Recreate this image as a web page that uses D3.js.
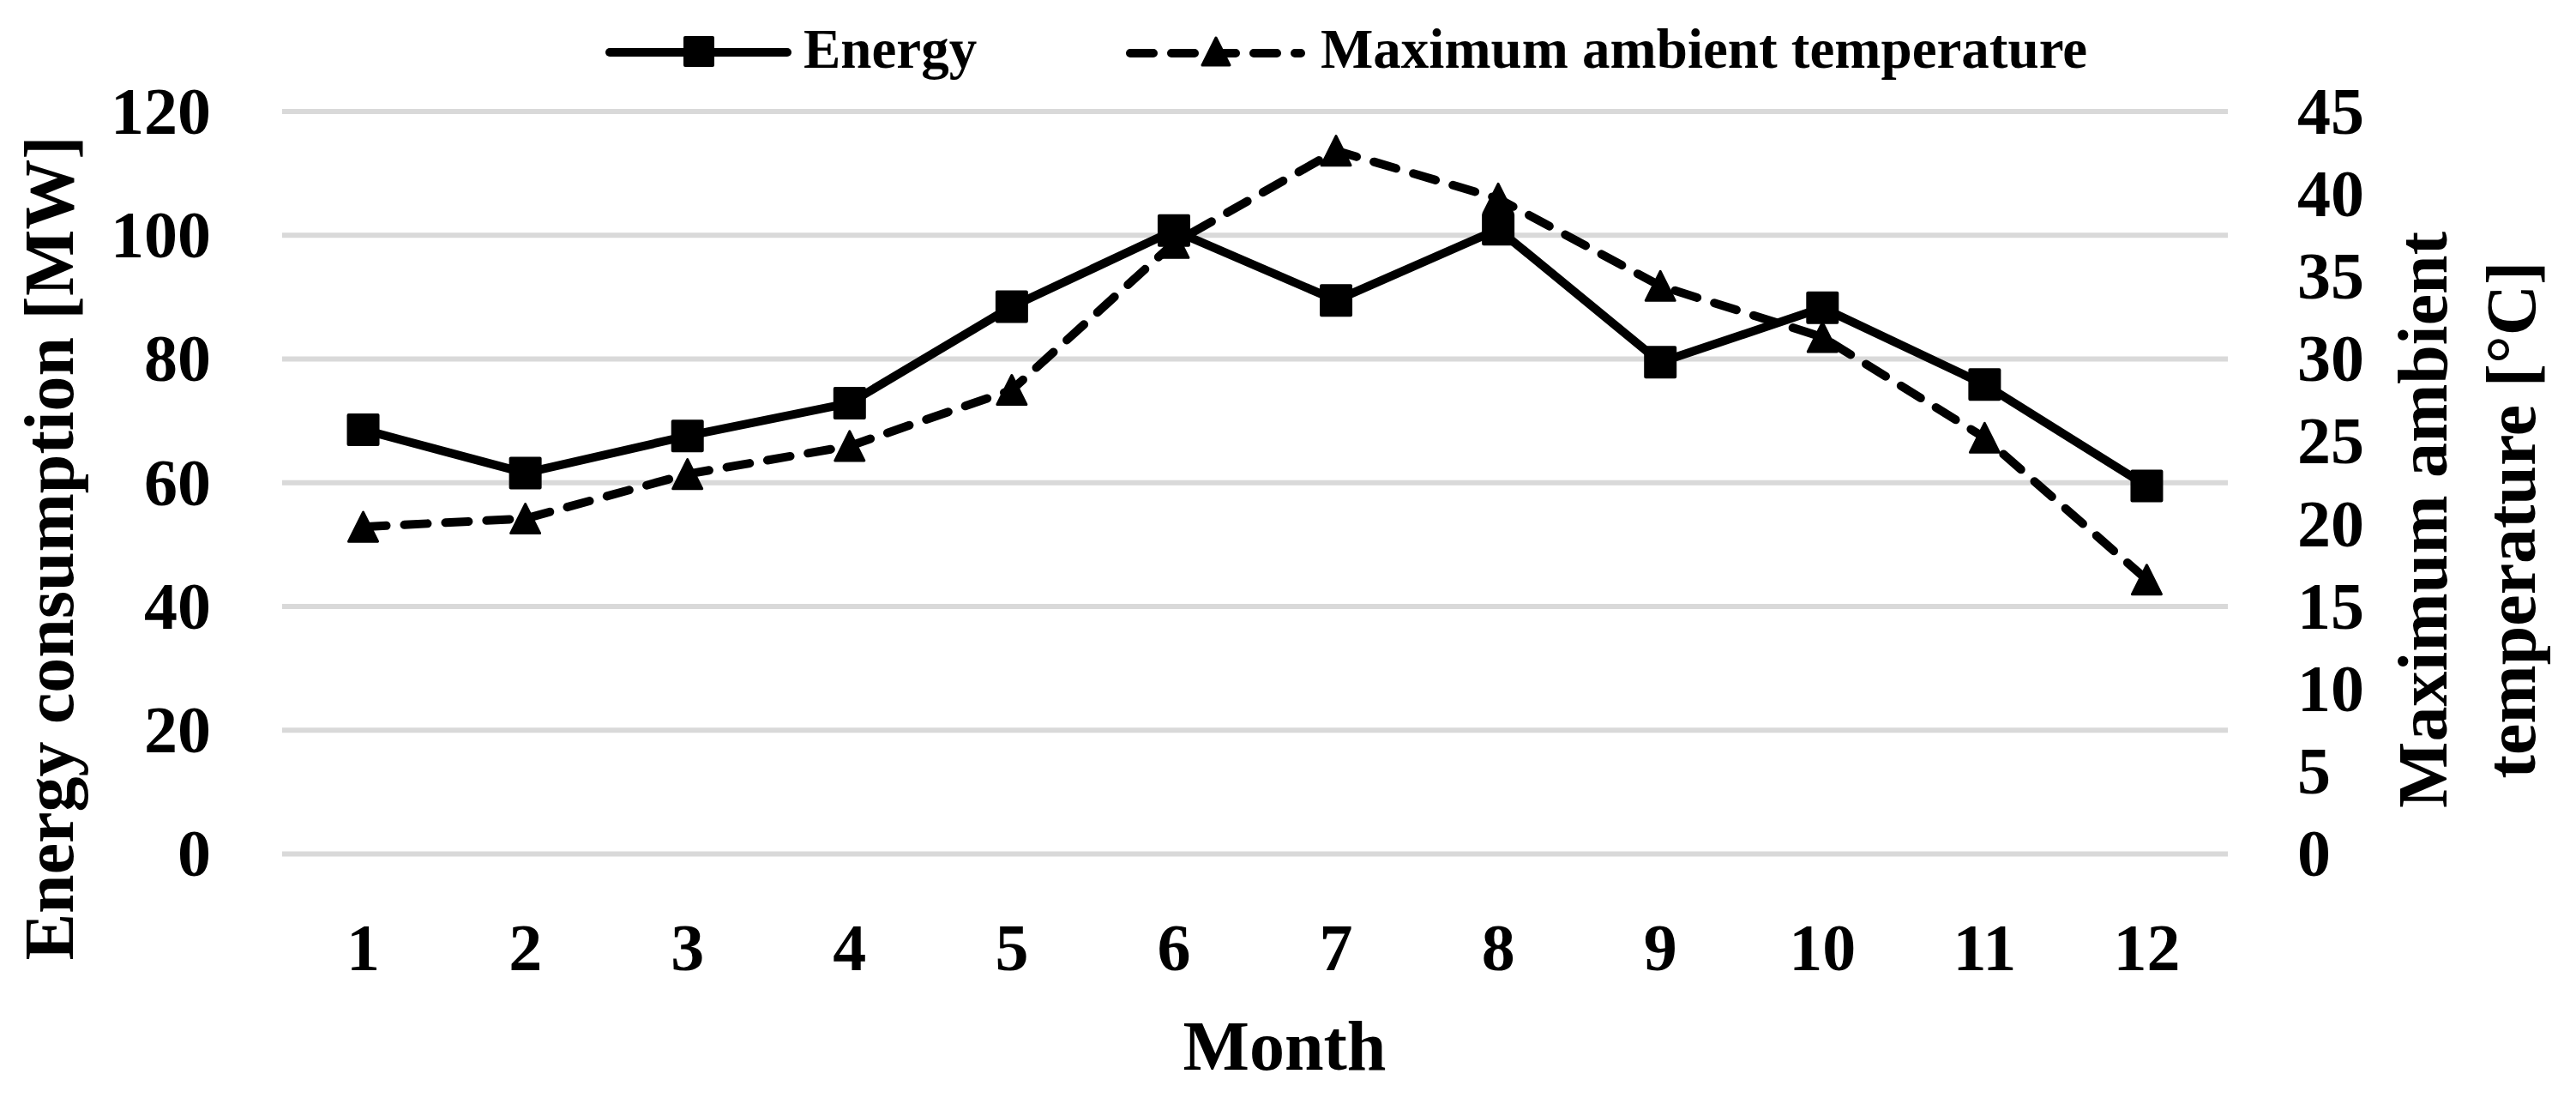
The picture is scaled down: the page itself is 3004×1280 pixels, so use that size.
<!DOCTYPE html>
<html>
<head>
<meta charset="utf-8">
<script src="https://cdn.jsdelivr.net/npm/d3@7"></script>
<style>
    body { margin: 0; background: #fff; }
    text { font-family: 'Liberation Serif', 'Times New Roman', serif; font-weight: bold; fill: #000; }
</style>
</head>
<body>
<div id="chart"></div>
<script>
// data
var months = [1, 2, 3, 4, 5, 6, 7, 8, 9, 10, 11, 12];
var energy = [68.5, 61.5, 67.5, 72.8, 88.4, 100.7, 89.4, 100.9, 79.4, 88.2, 75.8, 59.4];
var temperature = [19.8, 20.3, 23.0, 24.7, 28.1, 37.0, 42.6, 39.7, 34.4, 31.3, 25.2, 16.6];
var energyTicks = [0, 20, 40, 60, 80, 100, 120];
var tempTicks = [0, 5, 10, 15, 20, 25, 30, 35, 40, 45];
var seriesNames = ['Energy', 'Maximum ambient temperature'];

var width = 3004, height = 1280;
var plot = { left: 329, right: 2598, top: 129.5, bottom: 995 };

var svg = d3.select('#chart')
    .append('svg')
    .attr('width', width)
    .attr('height', height)
    .attr('viewBox', [0, 0, width, height]);

var x = d3.scaleBand().domain(months).range([plot.left, plot.right]);
var y = d3.scaleLinear().domain([0, 120]).range([plot.bottom, plot.top]);
var y2 = d3.scaleLinear().domain([0, 45]).range([plot.bottom, plot.top]);
var cx = function(m) { return x(m) + x.bandwidth() / 2; };

var tickFont = 78;
var dash = '27 21';

// left axis + gridlines
var gLeft = svg.append('g')
    .attr('transform', 'translate(' + plot.left + ',0)')
    .call(d3.axisLeft(y).tickValues(energyTicks).tickSize(-(plot.right - plot.left)).tickPadding(83));
gLeft.select('.domain').remove();
gLeft.selectAll('.tick line').attr('stroke', '#d9d9d9').attr('stroke-width', 6);
gLeft.selectAll('.tick text').style('font-size', tickFont + 'px').attr('dy', '0.33em');

// right axis
var gRight = svg.append('g')
    .attr('transform', 'translate(' + plot.right + ',0)')
    .call(d3.axisRight(y2).tickValues(tempTicks).tickSize(0).tickPadding(81));
gRight.select('.domain').remove();
gRight.selectAll('.tick text').style('font-size', tickFont + 'px').attr('dy', '0.33em');

// x axis
var gBottom = svg.append('g')
    .attr('transform', 'translate(0,' + plot.bottom + ')')
    .call(d3.axisBottom(x).tickSize(0).tickPadding(0));
gBottom.select('.domain').remove();
gBottom.selectAll('.tick text').style('font-size', tickFont + 'px').attr('y', 136).attr('dy', null);

// axis titles
var titleFont = 82;
svg.append('text')
    .attr('transform', 'translate(85,639) rotate(-90)')
    .attr('text-anchor', 'middle')
    .style('font-size', titleFont + 'px')
    .text('Energy consumption [MW]');

svg.append('text')
    .attr('x', 1498).attr('y', 1247)
    .attr('text-anchor', 'middle')
    .style('font-size', titleFont + 'px')
    .text('Month');

svg.append('text')
    .attr('transform', 'translate(2853,606) rotate(-90)')
    .attr('text-anchor', 'middle')
    .style('font-size', titleFont + 'px')
    .text('Maximum ambient');
svg.append('text')
    .attr('transform', 'translate(2956,606) rotate(-90)')
    .attr('text-anchor', 'middle')
    .style('font-size', titleFont + 'px')
    .text('temperature [°C]');

// marker shapes
var triPath = function(s) { return 'M0,' + (-s / 2) + 'L' + (s / 2) + ',' + (s / 2) + 'L' + (-s / 2) + ',' + (s / 2) + 'Z'; };
function drawSquare(g, px, py, s) {
    g.append('rect')
        .attr('x', px - s / 2).attr('y', py - s / 2)
        .attr('width', s).attr('height', s)
        .attr('fill', '#000').attr('stroke', '#000')
        .attr('stroke-width', 4).attr('stroke-linejoin', 'round');
}
function drawTriangle(g, px, py, s) {
    g.append('path')
        .attr('d', triPath(s))
        .attr('transform', 'translate(' + px + ',' + py + ')')
        .attr('fill', '#000').attr('stroke', '#000')
        .attr('stroke-width', 3).attr('stroke-linejoin', 'round');
}

var tempLine = d3.line()
    .x(function(d, i) { return cx(months[i]); })
    .y(function(d) { return y2(d); });

var energyLine = d3.line()
    .x(function(d, i) { return cx(months[i]); })
    .y(function(d) { return y(d); });

// temperature series (dashed, secondary axis)
svg.append('path')
    .datum(temperature)
    .attr('d', tempLine)
    .attr('fill', 'none')
    .attr('stroke', '#000')
    .attr('stroke-width', 10)
    .attr('stroke-dasharray', dash)
    .attr('stroke-linecap', 'round')
    .attr('stroke-linejoin', 'round');

svg.append('path')
    .datum(energy)
    .attr('d', energyLine)
    .attr('fill', 'none')
    .attr('stroke', '#000')
    .attr('stroke-width', 10)
    .attr('stroke-linejoin', 'round');

var marks = svg.append('g');
temperature.forEach(function(d, i) { drawTriangle(marks, cx(months[i]), y2(d), 34); });
energy.forEach(function(d, i) { drawSquare(marks, cx(months[i]), y(d), 34); });

// legend
var legendFont = 65;
var leg = svg.append('g');
leg.append('line')
    .attr('x1', 711).attr('x2', 918).attr('y1', 61).attr('y2', 61)
    .attr('stroke', '#000').attr('stroke-width', 10).attr('stroke-linecap', 'round');
drawSquare(leg, 815, 60, 32);
leg.append('text')
    .attr('x', 937).attr('y', 79)
    .style('font-size', legendFont + 'px')
    .text(seriesNames[0]);

leg.append('line')
    .attr('x1', 1318).attr('x2', 1517).attr('y1', 62).attr('y2', 62)
    .attr('stroke', '#000').attr('stroke-width', 10)
    .attr('stroke-dasharray', dash).attr('stroke-linecap', 'round');
drawTriangle(leg, 1418, 60, 32);
leg.append('text')
    .attr('x', 1540).attr('y', 79)
    .style('font-size', legendFont + 'px')
    .text(seriesNames[1]);
</script>
</body>
</html>
